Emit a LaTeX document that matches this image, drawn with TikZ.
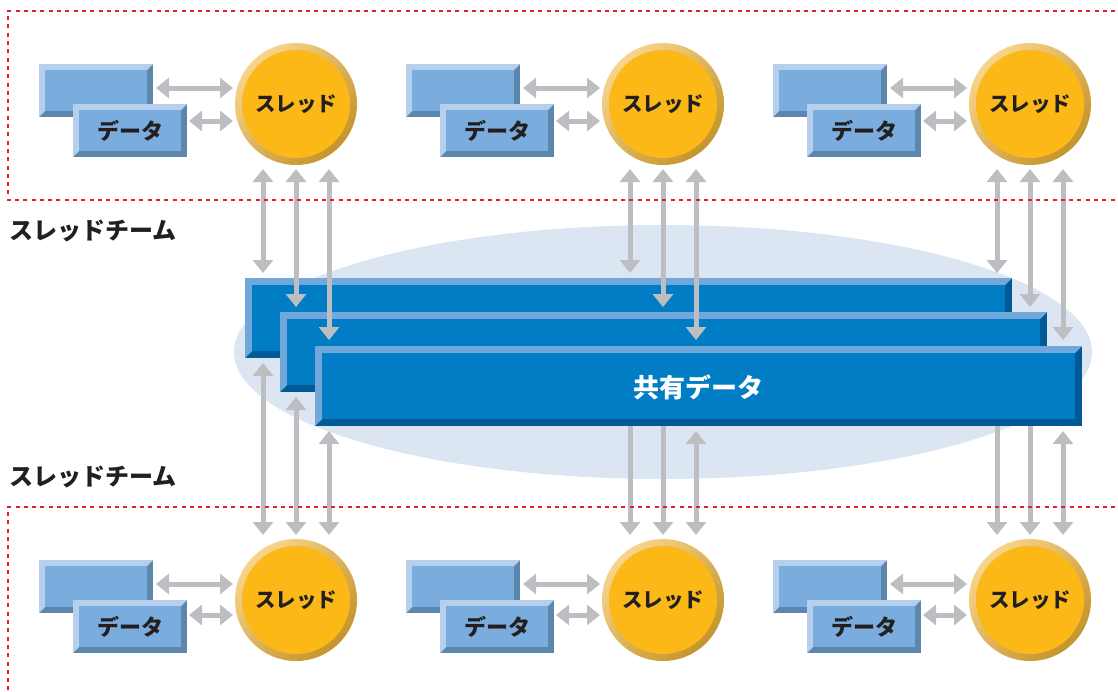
\documentclass[tikz,border=0pt]{standalone}
\usepackage{fontspec}
\newfontfamily\jp{Noto Sans CJK JP}[BoldFont={Noto Sans CJK JP Black}]
\usetikzlibrary{arrows.meta,calc}

\definecolor{dataface}{HTML}{7AADDD}
\definecolor{datalight}{HTML}{B6CFEC}
\definecolor{datadark}{HTML}{5B87AD}
\definecolor{sharedface}{HTML}{007DC5}
\definecolor{sharedlight}{HTML}{70A8DC}
\definecolor{shareddark}{HTML}{005A96}
\definecolor{arrowgray}{HTML}{BDBEC1}
\definecolor{ringlight}{HTML}{F8D48C}
\definecolor{ringdark}{HTML}{C4952C}
\definecolor{threadfill}{HTML}{FBB817}
\definecolor{halo}{HTML}{DCE6F3}
\definecolor{teamred}{HTML}{E5202E}
\definecolor{ink}{HTML}{231F20}

% beveled box: name, left x, top y, width, height, colour prefix, bevel size
\newcommand\bevelbox[7]{%
  \node[minimum width=#4pt, minimum height=#5pt, inner sep=0pt, outer sep=0pt,
        anchor=north west, fill=#6dark] (#1) at (#2,#3) {};
  \fill[#6light] (#1.north west) -- (#1.north east)
     -- ([shift={(-#7pt,-#7pt)}]#1.north east) -- ([shift={(#7pt,-#7pt)}]#1.north west)
     -- ([shift={(#7pt,#7pt)}]#1.south west) -- (#1.south west) -- cycle;
  \fill[#6face] ([shift={(#7pt,-#7pt)}]#1.north west) rectangle ([shift={(-#7pt,#7pt)}]#1.south east);
}

\tikzset{
  thread/.style={circle, minimum size=122pt, inner sep=0pt, outer sep=0pt,
    top color=ringlight, bottom color=ringdark, shading angle=45,
    path picture={\fill[threadfill] (path picture bounding box.center) circle[radius=54pt];},
    font=\jp\bfseries\fontsize{20.5}{24}\selectfont, text=ink},
  datalabel/.style={inner sep=0pt, font=\jp\bfseries\fontsize{22}{26}\selectfont, text=ink},
  sharedlabel/.style={inner sep=0pt, font=\jp\bfseries\fontsize{26}{30}\selectfont, text=white},
  teamlabel/.style={inner sep=0pt, anchor=west, font=\jp\bfseries\fontsize{24}{28}\selectfont, text=ink},
  biarrow/.style={draw=arrowgray, line width=5pt,
    {Triangle[width=20pt,length=13pt]}-{Triangle[width=20pt,length=13pt]}},
  teamframe/.style={draw=teamred, line width=2.3pt, dash pattern=on 4pt off 4.3pt},
}

\begin{document}
\begin{tikzpicture}[x=1pt, y=-1pt]
  \useasboundingbox (0,0) rectangle (1118,691);
  \clip (0,0) rectangle (1118,691);

  % pale halo behind the shared data
  \fill[halo] (663,352) ellipse[x radius=429pt, y radius=127pt];

  % thread teams: top row (A) and bottom row (B)
  \foreach \i/\cx in {1/296,2/663,3/1030}{
    % top row
    \bevelbox{dAb\i}{\cx-257}{64}{114}{53}{data}{6}
    \bevelbox{dAf\i}{\cx-223}{104}{114}{53}{data}{6}
    \node[datalabel] (dAl\i) at (dAf\i) {データ};
    \node[thread] (tA\i) at (\cx,104) {スレッド};
    \draw[biarrow] ($(dAb\i.east |- tA\i.center)+(3,-16)$) -- ($(tA\i.west)+(-2,-16)$);
    \draw[biarrow] ($(dAf\i.east |- tA\i.center)+(2,17)$) -- ($(tA\i.west)+(-2,17)$);
    % bottom row
    \bevelbox{dBb\i}{\cx-257}{560}{114}{53}{data}{6}
    \bevelbox{dBf\i}{\cx-223}{600}{114}{53}{data}{6}
    \node[datalabel] (dBl\i) at (dBf\i) {データ};
    \node[thread] (tB\i) at (\cx,600) {スレッド};
    \draw[biarrow] ($(dBb\i.east |- tB\i.center)+(3,-16)$) -- ($(tB\i.west)+(-2,-16)$);
    \draw[biarrow] ($(dBf\i.east |- tB\i.center)+(2,15)$) -- ($(tB\i.west)+(-2,15)$);
  }

  % lower edges of the shared blocks (the lower arrows start there)
  \coordinate (sd1s) at (0,358);
  \coordinate (sd2s) at (0,392);
  \coordinate (sd3s) at (0,426);

  % lower threads to the shared data (drawn beneath the blocks)
  \foreach \i in {1,2,3}{
    \draw[biarrow] ($(tB\i.center |- sd1s)+(-33,5)$) -- ($(tB\i.center)+(-33,-65)$);
    \draw[biarrow] ($(tB\i.center |- sd2s)+(0,5)$) -- ($(tB\i.center)+(0,-65)$);
    \draw[biarrow] ($(tB\i.center |- sd3s)+(33,5)$) -- ($(tB\i.center)+(33,-65)$);
  }

  % shared data blocks
  \bevelbox{sd1}{245}{278}{767}{80}{shared}{7}
  \bevelbox{sd2}{280}{312}{767}{80}{shared}{7}
  \bevelbox{sd3}{315}{346}{767}{80}{shared}{7}
  \node[sharedlabel] (sdl) at ($(sd3.center)+(0,1)$) {共有データ};

  % upper threads to the shared data
  \foreach \i in {1,2,3}{
    \draw[biarrow] ($(tA\i.center)+(-33,65)$) -- ($(tA\i.center |- sd1.north)+(-33,-5)$);
    \draw[biarrow] ($(tA\i.center)+(0,65)$) -- ($(tA\i.center |- sd2.north)+(0,-5)$);
    \draw[biarrow] ($(tA\i.center)+(33,65)$) -- ($(tA\i.center |- sd3.north)+(33,-6)$);
  }

  % team frames
  \draw[teamframe] (1140,11) -- (8,11) -- (8,200) -- (1140,200);
  \draw[teamframe] (1140,507) -- (8,507) -- (8,700);

  \node[teamlabel] (teamA) at (9,231) {スレッドチーム};
  \node[teamlabel] (teamB) at (9,477) {スレッドチーム};
\end{tikzpicture}
\end{document}
